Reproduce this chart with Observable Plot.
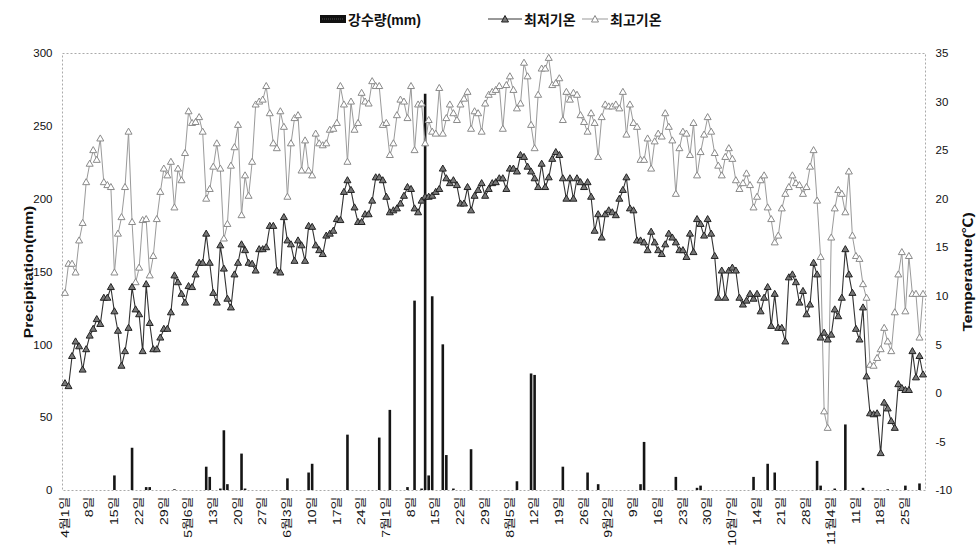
<!DOCTYPE html>
<html><head><meta charset="utf-8">
<script src="https://cdn.jsdelivr.net/npm/d3@7"></script>
<script src="https://cdn.jsdelivr.net/npm/@observablehq/plot@0.6"></script>
<style>
body{margin:0;background:#fff;font-family:"Liberation Sans","Noto Sans CJK KR",sans-serif;}
#legend{position:relative;height:35px;width:976px;font-size:14px;font-weight:bold;color:#111;}
#legend .item{position:absolute;top:9px;display:flex;align-items:center;white-space:nowrap;}
#legend svg{display:block;margin-right:2px;}
</style></head><body>
<div id="legend"></div>
<div id="chart"></div>
<script>
// ---- data ----
const xTickLabels = ["4월1일","8일","15일","22일","29일","5월6일","13일","20일","27일","6월3일","10일","17일","24일","7월1일","8일","15일","22일","29일","8월5일","12일","19일","26일","9월2일","9일","16일","23일","30일","10월7일","14일","21일","28일","11월4일","11일","18일","25일"];
const precipTicks = [0,50,100,150,200,250,300];
const tempTicks = [-10,-5,0,5,10,15,20,25,30,35];

// daily max temperature (Apr 1 .. Nov 30)
const tMax = [
10.3,13.3,13.3,12.4,15.7,17.5,21.7,23.6,25,24,
26.2,21.7,21.4,21.2,12.4,16.4,18.1,21.2,26.9,17.6,
11.4,12.9,17.8,17.9,12.1,14.1,17.9,20.7,23.1,22.4,
23.8,19.1,23.1,21.9,24.7,29.0,27.8,27.9,28.4,26.9,
20,21,23.3,25.7,23.1,15.9,17.4,23.4,25.3,27.6,
18.3,22.4,20.3,23.8,29.7,30,30.2,31.6,28.8,25.7,
25.2,29,27.4,20.2,25.7,28.3,28.6,22.9,26,22.9,
22.4,26.7,25.7,25.5,25.7,27.1,27.2,27.8,31.6,29.7,
23.8,30,27.1,
27.8,30.9,30,29.8,32.1,31.6,31.6,27.6,27.8,24.5,
25.7,28.6,30.2,30,28.3,31.6,25,29.7,29.8,25.7,
28.1,26.9,26.7,31.4,26.7,28.3,29.7,28.8,28.1,29.7,
30.3,31,27.2,29,28.8,
26.9,29.8,30.7,31,31.2,31.6,27.2,31.7,32.6,31.2,
29.3,29.8,34,32.6,27.6,25.2,30.7,33.4,33.4,34.5,
31.7,31.9,32.4,28.1,31,30.2,30.9,30.7,28.6,27.9,
26.9,28.8,27.8,24.3,28.4,29.7,29.5,29.5,29.7,29.3,
31,26.6,29.7,27.8,27.4,
24,24,26.2,23.1,25.9,26.7,26.4,28.8,27.4,26,
20.5,25.2,26.9,26.7,24.5,27.8,22.4,24.8,26.6,28.4,
26.9,24.7,23.4,22.4,24.3,25.2,24.1,21.9,21,21.6,
22.6,21.4,19.1,20.2,21.9,22.4,19.1,17.9,15.5,16.2,
19,20.5,21.2,22.4,21.6,21.4,20.5,21.2,23.3,25,
19.8,14,-1.9,-3.6,16,19,20.9,20.5,18.6,22.8,
16.2,14.1,13.8,11.2,9.8,2.9,2.8,3.6,4.5,6.7,
5.3,4.3,8.3,12.2,14.5,8.4,14.1,10.2,10.2,5.7,
10.2];

// daily min temperature
const tMin = [
1.0,0.7,3.8,5.3,4.8,2.4,4.5,5.9,6.6,7.6,
7.1,9.8,9.8,10.9,8.4,6.4,2.8,4.3,6.7,10.9,
8.6,8.1,4.3,11.2,7.2,4.5,4.5,5.7,6.6,6.6,
8.3,12.1,11.4,10.2,9.3,11,10.9,12.2,13.4,13.4,
16.4,13.4,10.3,9.3,15.2,12.8,9.7,8.8,12.2,13.4,
15.3,14.7,13.4,13.3,12.6,14.8,14.8,15,17.2,17.2,
12.6,12.4,18.1,15.7,15.3,13.6,15.7,15.2,13.6,17.2,
17.1,15.2,14.7,14.3,16.2,16.4,16.7,17.9,17.8,20.7,
21.9,20.9,19.1,
17.6,17.6,18.4,18.4,19.8,22.2,22.2,21.9,20.2,18.6,
18.8,19,19.5,20.3,21.2,21,19,18.6,19.8,20.2,
20.2,20.3,20.7,21,23.1,22.1,21.6,21.9,21.4,19.5,
19.5,21.2,18.8,20.3,20.9,21.6,20.3,21,21.6,21.7,
22.1,22.1,21,23.1,23.1,22.8,24.5,24.3,23.3,22.8,
22.1,21.2,23.6,21.2,22.2,24.1,24.8,24.5,22.1,20,
22.1,20,22.1,21.7,21.2,21.7,20.2,16.7,18.4,16,
18.4,18.8,18.6,18.3,20,20.9,22.2,19,18.8,15.7,
15.7,15.5,14.7,16.6,15.5,14.7,14.3,15.3,16.4,16,
15.5,14.7,14.7,14,16.4,14.5,17.9,17.4,16.2,17.9,
16.4,14.1,9.8,12.6,9.8,12.6,12.9,12.6,9.8,9.1,
9.5,10.2,9.7,10.2,8.4,9.8,10.9,6.9,10.2,6.7,
6.7,5.3,11.9,12.2,11.4,9.3,10.5,8.1,9.1,13.4,
12.2,5.7,6.2,5.5,6.0,8.6,7.9,9.8,14.8,12.2,
10.3,6.6,5.5,8.8,1.7,-2.1,-2.2,-2.1,-6.2,-1,
-1.6,-2.9,-3.6,0.9,0.5,0.3,0.3,4.3,1.6,3.8,
1.9];

// precipitation (day index from Apr 1, mm)
const rainDay = [14,19,23,24,31,40,41,44,45,46,50,51,63,69,70,80,89,92,97,99,101,102,103,104,107,108,110,115,128,132,133,141,148,151,163,164,173,179,180,195,199,201,213,214,218,221,226,233,238,242];
const rainMm  = [10,29,2,2,0.5,16,9,1,41,4,25,1,8,12,18,38,36,55,2,130,1,272,10,133,100,24,1,28,6,80,79,16,12,4,4,33,9,1.5,3,9,18,12,20,3,1,45,1.5,0.5,3,4.5];

const legendLabels = ["강수량(mm)","최저기온","최고기온"];
const yTitleLeft = "Precipitation(mm)";
const yTitleRight = "Temperature(℃)";

// ---- build ----
const pMax = precipTicks[precipTicks.length-1];
const tLo = tempTicks[0], tHi = tempTicks[tempTicks.length-1];
const toY = t => (t - tLo) * pMax / (tHi - tLo);
const fromY = v => Math.round(v * (tHi - tLo) / pMax + tLo);

const days = tMax.map((v,i) => ({d:i, max:v, min:tMin[i]}));
const rain = rainDay.map((d,i) => ({d, mm: rainMm[i]}));
const xTicks = xTickLabels.map((_,i) => i*7);
const xLab = new Map(xTicks.map((d,i)=>[d, xTickLabels[i]]));

const font = '"Liberation Sans","Noto Sans CJK KR",sans-serif';

const chart = Plot.plot({
  width: 976, height: 514,
  marginLeft: 62, marginRight: 51, marginTop: 18, marginBottom: 59,
  x: {domain: [-0.7, 243.7]},
  y: {domain: [0, pMax]},
  style: {fontFamily: font, fontSize: "11px", color: "#111", background: "#fff"},
  marks: [
    Plot.frame({stroke: "#aaa", strokeDasharray: "2,2"}),
    Plot.axisY(precipTicks, {anchor: "left", tickSize: 0, tickPadding: 10, label: null, fontSize: 11.5}),
    Plot.axisY(tempTicks.map(toY), {anchor: "right", tickSize: 0, tickPadding: 10, label: null, fontSize: 11.5, tickFormat: v => String(fromY(v))}),
    Plot.axisX(xTicks, {anchor: "bottom", tickSize: 0, tickPadding: 6, tickRotate: -90, label: null, fontSize: 11.5, tickFormat: d => xLab.get(d), className: "xax"}),
    Plot.ruleX(rain, {x: "d", y1: 0, y2: "mm", stroke: "#151515", strokeWidth: 2.6}),
    Plot.line(days, {x: "d", y: d => toY(d.max), stroke: "#9a9a9a", strokeWidth: 1}),
    Plot.dot(days, {x: "d", y: d => toY(d.max), symbol: "triangle", r: 2.6, fill: "#fff", stroke: "#8a8a8a", strokeWidth: 1}),
    Plot.line(days, {x: "d", y: d => toY(d.min), stroke: "#333", strokeWidth: 1.1}),
    Plot.dot(days, {x: "d", y: d => toY(d.min), symbol: "triangle", r: 2.6, fill: "#777", stroke: "#222", strokeWidth: 1}),
    Plot.text([yTitleLeft], {frameAnchor: "left", textAnchor: "middle", dx: -34, rotate: -90, fontWeight: "bold", fontSize: 13, text: d => d, className: "ttl"}),
    Plot.text([yTitleRight], {frameAnchor: "right", textAnchor: "middle", dx: 42, rotate: -90, fontWeight: "bold", fontSize: 13, text: d => d, className: "ttl"})
  ]
});
// the scanned reference is stretched vertically: lengthen the rotated texts along their own direction
d3.select(chart).selectAll(".ttl text").each(function(){
  const t = this.getAttribute("transform") || "";
  this.setAttribute("transform", t + " scale(1.2,1)");
});
d3.select(chart).selectAll(".xax text").each(function(){
  const t = this.getAttribute("transform") || "";
  this.setAttribute("transform", t + " scale(1.22,1)");
});
document.getElementById("chart").appendChild(chart);

// legend
const lg = document.getElementById("legend");
function item(left, svg, label){
  const el = document.createElement("div");
  el.className = "item"; el.style.left = left + "px";
  el.innerHTML = svg + "<span>" + label + "</span>";
  lg.appendChild(el);
}
item(320, '<svg width="26" height="10"><rect x="0" y="1" width="26" height="8" fill="#111"/><path d="M2 5h22" stroke="#555" stroke-dasharray="1,1"/></svg>', legendLabels[0]);
item(488, '<svg width="34" height="12"><line x1="0" y1="6" x2="34" y2="6" stroke="#333"/><path d="M17 2.5L20.5 9H13.5Z" fill="#777" stroke="#222"/></svg>', legendLabels[1]);
item(582, '<svg width="26" height="12"><line x1="0" y1="6" x2="26" y2="6" stroke="#999"/><path d="M13 2.5L16.5 9H9.5Z" fill="#fff" stroke="#888"/></svg>', legendLabels[2]);
</script>
</body></html>
